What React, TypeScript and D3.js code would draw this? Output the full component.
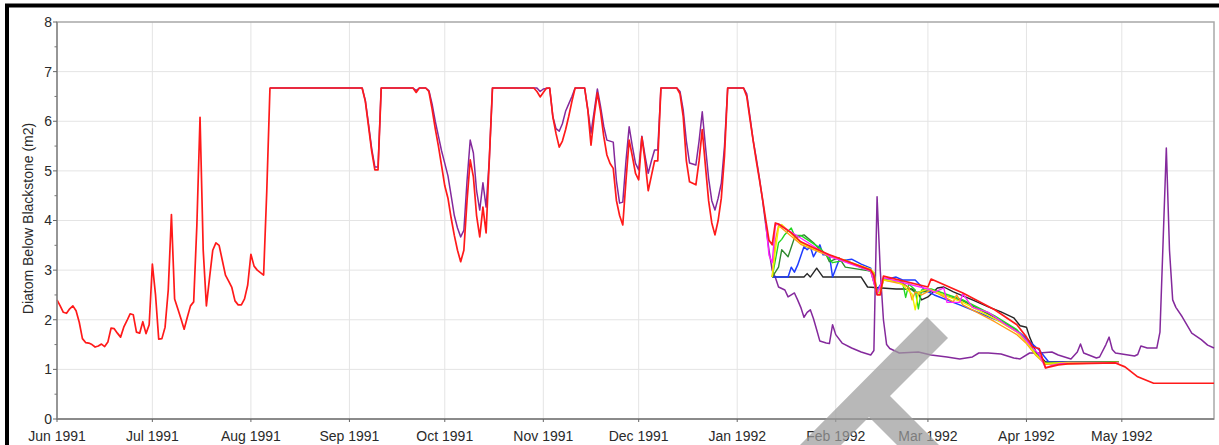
import * as d3 from 'd3';

// daily "Diatom Below Blackstone" readings, [date, m2]
const observed: [string, number][] = [
  ['1991-06-01', 2.40], ['1991-06-02', 2.28], ['1991-06-03', 2.15], ['1991-06-04', 2.13], ['1991-06-05', 2.22],
  ['1991-06-06', 2.28], ['1991-06-07', 2.18], ['1991-06-08', 1.95], ['1991-06-09', 1.62], ['1991-06-10', 1.54],
  ['1991-06-11', 1.53], ['1991-06-12', 1.50], ['1991-06-13', 1.45], ['1991-06-14', 1.47], ['1991-06-15', 1.51],
  ['1991-06-16', 1.46], ['1991-06-17', 1.55], ['1991-06-18', 1.83], ['1991-06-19', 1.82], ['1991-06-20', 1.73],
  ['1991-06-21', 1.65], ['1991-06-22', 1.85], ['1991-06-23', 1.98], ['1991-06-24', 2.12], ['1991-06-25', 2.10],
  ['1991-06-26', 1.75], ['1991-06-27', 1.73], ['1991-06-28', 1.96], ['1991-06-29', 1.72], ['1991-06-30', 1.90],
  ['1991-07-01', 3.12], ['1991-07-02', 2.50], ['1991-07-03', 1.61], ['1991-07-04', 1.62], ['1991-07-05', 1.85],
  ['1991-07-06', 2.60], ['1991-07-07', 4.12], ['1991-07-08', 2.42], ['1991-07-09', 2.22], ['1991-07-10', 2.02],
  ['1991-07-11', 1.81], ['1991-07-12', 2.05], ['1991-07-13', 2.28], ['1991-07-14', 2.36], ['1991-07-15', 3.90],
  ['1991-07-16', 6.08], ['1991-07-17', 3.40], ['1991-07-18', 2.28], ['1991-07-19', 2.85], ['1991-07-20', 3.40],
  ['1991-07-21', 3.55], ['1991-07-22', 3.50], ['1991-07-23', 3.20], ['1991-07-24', 2.90], ['1991-07-25', 2.78],
  ['1991-07-26', 2.65], ['1991-07-27', 2.38], ['1991-07-28', 2.30], ['1991-07-29', 2.30], ['1991-07-30', 2.42],
  ['1991-07-31', 2.70], ['1991-08-01', 3.32], ['1991-08-02', 3.08], ['1991-08-03', 3.00], ['1991-08-04', 2.95],
  ['1991-08-05', 2.90], ['1991-08-06', 4.60], ['1991-08-07', 6.67],
  ['1991-09-05', 6.67], ['1991-09-06', 6.40], ['1991-09-07', 5.90], ['1991-09-08', 5.40], ['1991-09-09', 5.02],
  ['1991-09-10', 5.02], ['1991-09-11', 6.67], ['1991-09-21', 6.67], ['1991-09-22', 6.58], ['1991-09-23', 6.67],
  ['1991-09-25', 6.67], ['1991-09-26', 6.60], ['1991-09-27', 6.25], ['1991-09-28', 5.85], ['1991-09-29', 5.50],
  ['1991-09-30', 5.10], ['1991-10-01', 4.70], ['1991-10-02', 4.45], ['1991-10-03', 4.05], ['1991-10-04', 3.70],
  ['1991-10-05', 3.40], ['1991-10-06', 3.17], ['1991-10-07', 3.40], ['1991-10-08', 4.40], ['1991-10-09', 5.22],
  ['1991-10-10', 4.88], ['1991-10-11', 4.10], ['1991-10-12', 3.67], ['1991-10-13', 4.27], ['1991-10-14', 3.75],
  ['1991-10-15', 5.22], ['1991-10-16', 6.67],
  ['1991-10-29', 6.67], ['1991-10-30', 6.60], ['1991-10-31', 6.49], ['1991-11-01', 6.58], ['1991-11-02', 6.67],
  ['1991-11-03', 6.67], ['1991-11-04', 6.09], ['1991-11-05', 5.75], ['1991-11-06', 5.48], ['1991-11-07', 5.60],
  ['1991-11-08', 5.83], ['1991-11-09', 6.10], ['1991-11-10', 6.40], ['1991-11-11', 6.67], ['1991-11-14', 6.67],
  ['1991-11-15', 6.23], ['1991-11-16', 5.52], ['1991-11-17', 6.10], ['1991-11-18', 6.57], ['1991-11-19', 6.20],
  ['1991-11-20', 5.70], ['1991-11-21', 5.32], ['1991-11-22', 5.15], ['1991-11-23', 5.05], ['1991-11-24', 4.40],
  ['1991-11-25', 4.10], ['1991-11-26', 3.91], ['1991-11-27', 4.80], ['1991-11-28', 5.62], ['1991-11-29', 5.30],
  ['1991-11-30', 4.95], ['1991-12-01', 4.82], ['1991-12-02', 5.68], ['1991-12-03', 5.20], ['1991-12-04', 4.60],
  ['1991-12-05', 4.90], ['1991-12-06', 5.20], ['1991-12-07', 5.20], ['1991-12-08', 6.67],
  ['1991-12-13', 6.67], ['1991-12-14', 6.55], ['1991-12-15', 6.10], ['1991-12-16', 5.20], ['1991-12-17', 4.78],
  ['1991-12-18', 4.75], ['1991-12-19', 4.72], ['1991-12-20', 5.20], ['1991-12-21', 5.83], ['1991-12-22', 5.10],
  ['1991-12-23', 4.40], ['1991-12-24', 3.95], ['1991-12-25', 3.71], ['1991-12-26', 4.00], ['1991-12-27', 4.45],
  ['1991-12-28', 5.30], ['1991-12-29', 6.67],
  ['1992-01-03', 6.67], ['1992-01-04', 6.50], ['1992-01-05', 6.05], ['1992-01-06', 5.62], ['1992-01-07', 5.20],
  ['1992-01-08', 4.82], ['1992-01-09', 4.42], ['1992-01-10', 4.00], ['1992-01-11', 3.60], ['1992-01-12', 3.51],
  ['1992-01-13', 3.95], ['1992-01-14', 3.93], ['1992-01-18', 3.75], ['1992-01-21', 3.57], ['1992-01-25', 3.45],
  ['1992-01-30', 3.31], ['1992-02-05', 3.17], ['1992-02-12', 3.00], ['1992-02-13', 2.90], ['1992-02-14', 2.50],
  ['1992-02-15', 2.50], ['1992-02-16', 2.88], ['1992-03-01', 2.66], ['1992-03-02', 2.82], ['1992-03-12', 2.54],
  ['1992-03-22', 2.20], ['1992-03-29', 1.90], ['1992-04-01', 1.65], ['1992-04-03', 1.45], ['1992-04-05', 1.42],
  ['1992-04-07', 1.03], ['1992-04-11', 1.09], ['1992-04-14', 1.11], ['1992-04-29', 1.13], ['1992-05-02', 1.05],
  ['1992-05-06', 0.85], ['1992-05-11', 0.72], ['1992-05-30', 0.72],
];

const simulated: [string, number][] = [
  ['1991-08-07', 6.67], ['1991-09-05', 6.67], ['1991-09-06', 6.42], ['1991-09-07', 5.95], ['1991-09-08', 5.45],
  ['1991-09-09', 5.08], ['1991-09-10', 5.08], ['1991-09-11', 6.67], ['1991-09-21', 6.67], ['1991-09-22', 6.62],
  ['1991-09-23', 6.67], ['1991-09-25', 6.67], ['1991-09-26', 6.62], ['1991-09-27', 6.35], ['1991-09-28', 6.00],
  ['1991-09-29', 5.70], ['1991-09-30', 5.40], ['1991-10-01', 5.15], ['1991-10-02', 4.90], ['1991-10-03', 4.50],
  ['1991-10-04', 4.10], ['1991-10-05', 3.85], ['1991-10-06', 3.67], ['1991-10-07', 3.80], ['1991-10-08', 4.80],
  ['1991-10-09', 5.62], ['1991-10-10', 5.36], ['1991-10-11', 4.60], ['1991-10-12', 4.21], ['1991-10-13', 4.76],
  ['1991-10-14', 4.27], ['1991-10-15', 5.22], ['1991-10-16', 6.67],
  ['1991-10-30', 6.67], ['1991-10-31', 6.60], ['1991-11-01', 6.65], ['1991-11-03', 6.67], ['1991-11-04', 6.09],
  ['1991-11-05', 5.85], ['1991-11-06', 5.80], ['1991-11-07', 5.95], ['1991-11-08', 6.20], ['1991-11-09', 6.35],
  ['1991-11-10', 6.50], ['1991-11-11', 6.67], ['1991-11-14', 6.67], ['1991-11-15', 6.23], ['1991-11-16', 5.76],
  ['1991-11-17', 6.20], ['1991-11-18', 6.65], ['1991-11-19', 6.30], ['1991-11-20', 5.90], ['1991-11-21', 5.62],
  ['1991-11-22', 5.60], ['1991-11-23', 5.58], ['1991-11-24', 4.80], ['1991-11-25', 4.35], ['1991-11-26', 4.37],
  ['1991-11-27', 5.20], ['1991-11-28', 5.89], ['1991-11-29', 5.50], ['1991-11-30', 5.15], ['1991-12-01', 5.02],
  ['1991-12-02', 5.70], ['1991-12-03', 5.30], ['1991-12-04', 4.95], ['1991-12-05', 5.20], ['1991-12-06', 5.42],
  ['1991-12-07', 5.42], ['1991-12-08', 6.67],
  ['1991-12-13', 6.67], ['1991-12-14', 6.60], ['1991-12-15', 6.23], ['1991-12-16', 5.60], ['1991-12-17', 5.16],
  ['1991-12-18', 5.14], ['1991-12-19', 5.12], ['1991-12-20', 5.60], ['1991-12-21', 6.19], ['1991-12-22', 5.50],
  ['1991-12-23', 4.85], ['1991-12-24', 4.40], ['1991-12-25', 4.21], ['1991-12-26', 4.45], ['1991-12-27', 4.75],
  ['1991-12-28', 5.50], ['1991-12-29', 6.67],
  ['1992-01-03', 6.67], ['1992-01-04', 6.55], ['1992-01-05', 6.10], ['1992-01-06', 5.62], ['1992-01-07', 5.25],
  ['1992-01-08', 4.85], ['1992-01-09', 4.40], ['1992-01-10', 3.90], ['1992-01-11', 3.40], ['1992-01-12', 3.00],
  ['1992-01-13', 2.85], ['1992-01-14', 2.66], ['1992-01-16', 2.60], ['1992-01-17', 2.46], ['1992-01-19', 2.54],
  ['1992-01-20', 2.40], ['1992-01-21', 2.25], ['1992-01-22', 2.05], ['1992-01-23', 2.15], ['1992-01-24', 2.20],
  ['1992-01-25', 2.02], ['1992-01-26', 1.80], ['1992-01-27', 1.57], ['1992-01-29', 1.53], ['1992-01-30', 1.52],
  ['1992-01-31', 1.90], ['1992-02-01', 1.70], ['1992-02-03', 1.53], ['1992-02-06', 1.43], ['1992-02-09', 1.35],
  ['1992-02-12', 1.29], ['1992-02-13', 1.38], ['1992-02-14', 4.48], ['1992-02-15', 3.00], ['1992-02-16', 2.00],
  ['1992-02-17', 1.50], ['1992-02-18', 1.42], ['1992-02-21', 1.33], ['1992-02-27', 1.35], ['1992-03-02', 1.29],
  ['1992-03-07', 1.25], ['1992-03-11', 1.21], ['1992-03-15', 1.25], ['1992-03-17', 1.33], ['1992-03-20', 1.33],
  ['1992-03-24', 1.31], ['1992-03-28', 1.23], ['1992-03-30', 1.21], ['1992-04-02', 1.33], ['1992-04-05', 1.33],
  ['1992-04-09', 1.35], ['1992-04-11', 1.29], ['1992-04-15', 1.21], ['1992-04-17', 1.35], ['1992-04-18', 1.51],
  ['1992-04-19', 1.33], ['1992-04-23', 1.23], ['1992-04-24', 1.25], ['1992-04-26', 1.50], ['1992-04-27', 1.65],
  ['1992-04-28', 1.40], ['1992-04-29', 1.33], ['1992-05-05', 1.27], ['1992-05-06', 1.30], ['1992-05-07', 1.47],
  ['1992-05-09', 1.43], ['1992-05-12', 1.43], ['1992-05-13', 1.75], ['1992-05-14', 3.60], ['1992-05-15', 5.46],
  ['1992-05-16', 3.40], ['1992-05-17', 2.40], ['1992-05-18', 2.25], ['1992-05-20', 2.06], ['1992-05-23', 1.73],
  ['1992-05-26', 1.60], ['1992-05-28', 1.49], ['1992-05-30', 1.43],
];

// forecast traces that start mid January 1992
const traceBlack: [string, number][] = [
  ['1992-01-12', 2.86], ['1992-01-22', 2.86], ['1992-01-23', 2.93], ['1992-01-24', 2.86], ['1992-01-26', 3.04],
  ['1992-01-28', 2.86], ['1992-02-09', 2.86], ['1992-02-11', 2.66], ['1992-02-20', 2.62], ['1992-02-25', 2.62],
  ['1992-02-27', 2.52], ['1992-02-28', 2.40], ['1992-03-01', 2.46], ['1992-03-04', 2.64], ['1992-03-06', 2.66],
  ['1992-03-09', 2.56], ['1992-03-15', 2.40], ['1992-03-20', 2.26], ['1992-03-24', 2.16], ['1992-03-28', 2.04],
  ['1992-03-30', 1.88], ['1992-04-01', 1.85], ['1992-04-02', 1.65], ['1992-04-04', 1.35], ['1992-04-07', 1.15],
  ['1992-04-30', 1.15],
];
const traceBlue: [string, number][] = [
  ['1992-01-12', 2.86], ['1992-01-17', 2.86], ['1992-01-18', 3.06], ['1992-01-19', 2.96], ['1992-01-20', 3.10],
  ['1992-01-22', 3.47], ['1992-01-23', 3.41], ['1992-01-24', 3.47], ['1992-01-25', 3.27], ['1992-01-27', 3.51],
  ['1992-01-28', 3.31], ['1992-01-30', 3.31], ['1992-01-31', 2.86], ['1992-02-02', 3.20], ['1992-02-04', 3.20],
  ['1992-02-06', 3.22], ['1992-02-09', 3.12], ['1992-02-12', 3.04], ['1992-02-14', 2.60], ['1992-02-16', 2.80],
  ['1992-02-20', 2.86], ['1992-02-22', 2.80], ['1992-02-26', 2.80], ['1992-02-29', 2.60], ['1992-03-03', 2.50],
  ['1992-03-11', 2.30], ['1992-03-24', 1.96], ['1992-03-30', 1.73], ['1992-04-05', 1.39], ['1992-04-08', 1.15],
  ['1992-04-30', 1.14],
];
const traceDarkGreen: [string, number][] = [
  ['1992-01-12', 2.86], ['1992-01-14', 3.06], ['1992-01-15', 3.41], ['1992-01-17', 3.27], ['1992-01-19', 3.65],
  ['1992-01-20', 3.67], ['1992-01-22', 3.71], ['1992-01-25', 3.55], ['1992-01-27', 3.41], ['1992-01-29', 3.31],
  ['1992-01-30', 3.17], ['1992-02-02', 3.25], ['1992-02-04', 3.06], ['1992-02-12', 2.98], ['1992-02-14', 2.52],
  ['1992-02-16', 2.82], ['1992-02-22', 2.74], ['1992-02-26', 2.55], ['1992-03-02', 2.58], ['1992-03-12', 2.38],
  ['1992-03-22', 2.05], ['1992-03-29', 1.78], ['1992-04-01', 1.56], ['1992-04-04', 1.30], ['1992-04-07', 1.13],
  ['1992-04-30', 1.15],
];
const traceGreen: [string, number][] = [
  ['1992-01-12', 2.86], ['1992-01-13', 3.20], ['1992-01-14', 3.55], ['1992-01-15', 3.62], ['1992-01-16', 3.72],
  ['1992-01-18', 3.85], ['1992-01-19', 3.70], ['1992-01-21', 3.70], ['1992-01-27', 3.45], ['1992-01-31', 3.15],
  ['1992-02-04', 3.20], ['1992-02-09', 3.05], ['1992-02-13', 2.95], ['1992-02-14', 2.55], ['1992-02-15', 2.55],
  ['1992-02-16', 2.80], ['1992-02-19', 2.78], ['1992-02-22', 2.76], ['1992-02-23', 2.45], ['1992-02-24', 2.72],
  ['1992-02-26', 2.60], ['1992-02-27', 2.22], ['1992-02-28', 2.60], ['1992-03-02', 2.62], ['1992-03-12', 2.40],
  ['1992-03-22', 2.08], ['1992-03-29', 1.80], ['1992-04-01', 1.58], ['1992-04-04', 1.30], ['1992-04-07', 1.12],
  ['1992-04-30', 1.14],
];
const traceYellow: [string, number][] = [
  ['1992-01-12', 2.86], ['1992-01-13', 3.40], ['1992-01-14', 3.85], ['1992-01-15', 3.92], ['1992-01-21', 3.55],
  ['1992-01-30', 3.30], ['1992-02-12', 3.02], ['1992-02-13', 2.95], ['1992-02-14', 2.55], ['1992-02-15', 2.55],
  ['1992-02-16', 2.80], ['1992-02-20', 2.78], ['1992-02-22', 2.70], ['1992-02-25', 2.52], ['1992-02-26', 2.20],
  ['1992-02-27', 2.55], ['1992-03-01', 2.62], ['1992-03-12', 2.35], ['1992-03-22', 2.02], ['1992-03-29', 1.75],
  ['1992-04-01', 1.55], ['1992-04-04', 1.30], ['1992-04-07', 1.12], ['1992-04-14', 1.14], ['1992-04-30', 1.14],
];
const traceOrange: [string, number][] = [
  ['1992-01-12', 2.86], ['1992-01-13', 3.60], ['1992-01-14', 3.90], ['1992-01-21', 3.52], ['1992-01-30', 3.28],
  ['1992-02-12', 3.00], ['1992-02-14', 2.52], ['1992-02-16', 2.80], ['1992-02-22', 2.72], ['1992-02-24', 2.65],
  ['1992-02-25', 2.40], ['1992-02-26', 2.56], ['1992-02-28', 2.50], ['1992-03-02', 2.60], ['1992-03-09', 2.36],
  ['1992-03-10', 2.50], ['1992-03-12', 2.30], ['1992-03-22', 1.96], ['1992-03-29', 1.70], ['1992-04-01', 1.52],
  ['1992-04-04', 1.28], ['1992-04-07', 1.10], ['1992-04-30', 1.14],
];
const traceMagenta: [string, number][] = [
  ['1992-01-10', 3.95], ['1992-01-11', 3.30], ['1992-01-12', 3.15], ['1992-01-13', 3.90], ['1992-01-14', 3.93],
  ['1992-01-30', 3.28], ['1992-02-12', 2.98], ['1992-02-14', 2.52], ['1992-02-16', 2.85], ['1992-03-01', 2.62],
  ['1992-03-03', 2.55], ['1992-03-06', 2.64], ['1992-03-07', 2.35], ['1992-03-11', 2.35], ['1992-03-12', 2.52],
  ['1992-03-15', 2.25], ['1992-03-20', 2.15], ['1992-03-26', 1.88], ['1992-03-30', 1.72], ['1992-04-02', 1.50],
  ['1992-04-05', 1.30], ['1992-04-07', 1.03], ['1992-04-09', 1.08], ['1992-04-12', 1.12], ['1992-04-30', 1.13],
];

const yTicks = [0, 1, 2, 3, 4, 5, 6, 7, 8];
const yLabel = 'Diatom Below Blackstone  (m2)';

const W = 1219;
const H = 445;
const plot = { left: 57, top: 22, right: 1214, bottom: 419 };
const font = '"Liberation Sans", Arial, sans-serif';

const parse = d3.timeParse('%Y-%m-%d');

const traces = [
  { data: simulated, color: '#84299c', width: 1.5 },
  { data: traceBlack, color: '#262626', width: 1.4 },
  { data: traceBlue, color: '#1f3cff', width: 1.5 },
  { data: traceDarkGreen, color: '#2f8a2f', width: 1.4 },
  { data: traceGreen, color: '#22d622', width: 1.4 },
  { data: traceOrange, color: '#ff9a1a', width: 1.4 },
  { data: traceYellow, color: '#f0f000', width: 1.4 },
  { data: traceMagenta, color: '#ff22ff', width: 1.4 },
  { data: observed, color: '#ff1a1a', width: 1.7 },
];

export default function App() {
  const x = d3.scaleTime()
    .domain([new Date(1991, 5, 1), new Date(1992, 4, 30)])
    .range([plot.left, plot.right]);
  const y = d3.scaleLinear().domain([0, 8]).range([plot.bottom, plot.top]);

  const months = d3.timeMonth.range(new Date(1991, 5, 1), new Date(1992, 4, 30));
  const fmt = d3.timeFormat('%b %Y');
  const halfTicks = d3.range(0.5, 8, 1);

  const line = d3.line<[string, number]>()
    .x(d => x(parse(d[0]) as Date))
    .y(d => y(d[1]));

  return (
    <svg width={W} height={H} style={{ position: 'absolute', left: 0, top: 0, background: '#fff' }}>
      <rect x={0} y={0} width={W} height={H} fill="#fff" />

      {/* grid */}
      {months.slice(1).map((m, i) => (
        <line key={'gx' + i} x1={x(m)} x2={x(m)} y1={plot.top} y2={plot.bottom} stroke="#e4e4e4" strokeWidth={1} />
      ))}
      {yTicks.slice(1, -1).map(t => (
        <line key={'gy' + t} x1={plot.left} x2={plot.right} y1={y(t)} y2={y(t)} stroke="#e4e4e4" strokeWidth={1} />
      ))}

      {/* plot frame */}
      <rect x={plot.left} y={plot.top} width={plot.right - plot.left} height={plot.bottom - plot.top}
        fill="none" stroke="#a8a8a8" strokeWidth={1.5} />

      {/* series */}
      {traces.map((s, i) => (
        <path key={'s' + i} d={line(s.data) || ''} fill="none" stroke={s.color} strokeWidth={s.width}
          strokeLinejoin="round" />
      ))}

      {/* axes */}
      <line x1={plot.left} x2={plot.left} y1={plot.top} y2={plot.bottom} stroke="#8a8a8a" strokeWidth={1.5} />
      <line x1={plot.left} x2={plot.right} y1={plot.bottom} y2={plot.bottom} stroke="#7a7a7a" strokeWidth={1.5} />
      {yTicks.map(t => (
        <g key={'yt' + t}>
          <line x1={plot.left - 4} x2={plot.left} y1={y(t)} y2={y(t)} stroke="#666" strokeWidth={1} />
          <text x={plot.left - 5} y={y(t)} dy="0.35em" textAnchor="end" fontSize={14}
            fontFamily={font} fill="#2a2a2a">{t}</text>
        </g>
      ))}
      {halfTicks.map(t => (
        <line key={'ym' + t} x1={plot.left - 2.5} x2={plot.left} y1={y(t)} y2={y(t)} stroke="#777" strokeWidth={1} />
      ))}
      {months.map((m, i) => (
        <g key={'xt' + i}>
          <line x1={x(m)} x2={x(m)} y1={plot.bottom} y2={plot.bottom + 3} stroke="#666" strokeWidth={1} />
          <text x={x(m)} y={441} textAnchor="middle" fontSize={14} fontFamily={font} fill="#2a2a2a">{fmt(m)}</text>
        </g>
      ))}
      <text transform={`translate(33,${(plot.top + plot.bottom) / 2 - 2}) rotate(-90)`} textAnchor="middle"
        fontSize={14} fontFamily={font} fill="#2a2a2a">{yLabel}</text>

      {/* grey overlay stamp at the bottom */}
      <polygon points="800,445 927,317 948,338 890,396 939,445 897,445 869,417 841,445"
        fill="#9c9c9c" opacity={0.72} />

      {/* outer black frame */}
      <path d={`M7,${H} V5.5 H${W}`} fill="none" stroke="#000" strokeWidth={4} />
    </svg>
  );
}
